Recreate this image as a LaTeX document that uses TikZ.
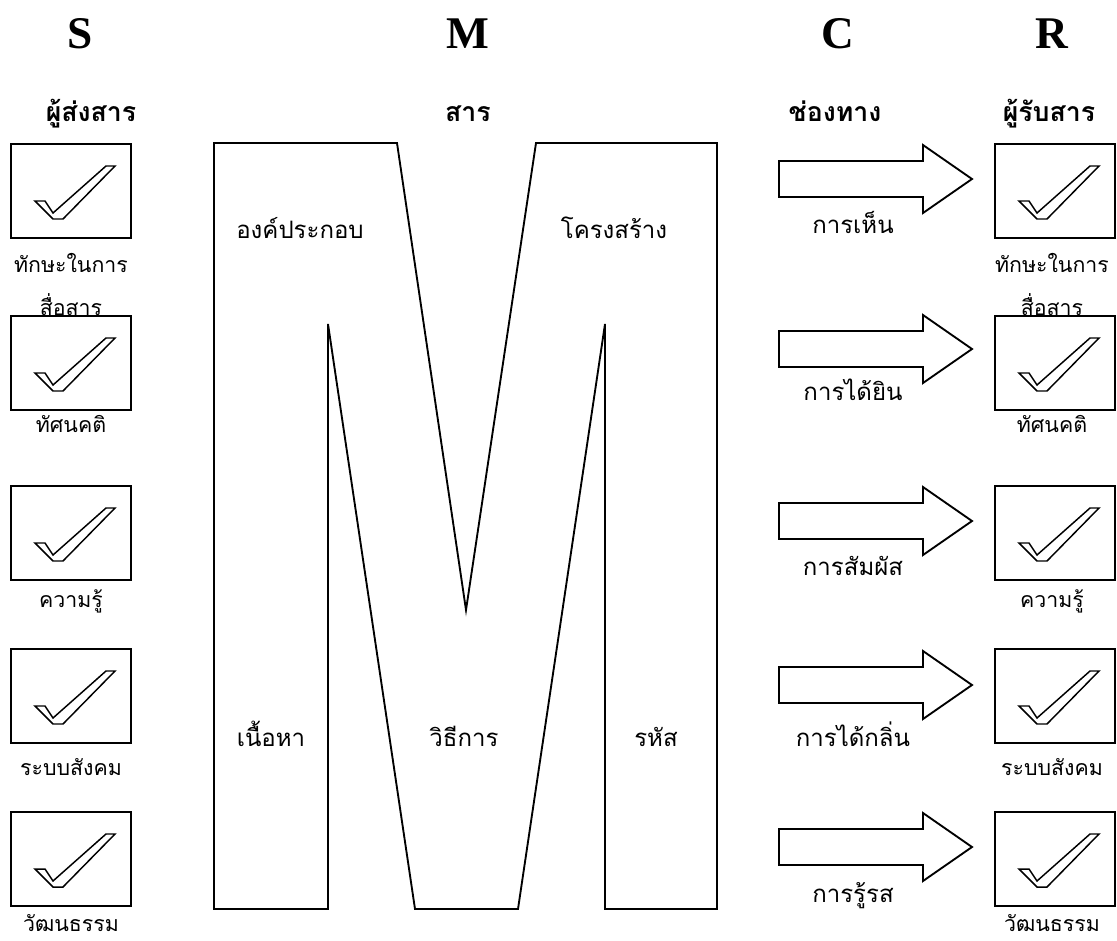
\documentclass[tikz,border=0pt]{standalone}
\usepackage{fontspec}
\setmainfont{Liberation Serif}
\newfontfamily\thaifont[Script=Thai]{Loma}
\usepackage{tikz}
\usetikzlibrary{positioning}
\tikzset{
  chkbox/.style = {shape=rectangle, draw, line width=1.4pt,
                   minimum width=90pt, minimum height=71pt, inner sep=0pt},
  lbl/.style    = {font=\thaifont\fontsize{16}{19}\selectfont, anchor=base, inner sep=0pt},
  biglbl/.style = {lbl, font=\thaifont\fontsize{18}{22}\selectfont},
  head/.style   = {font=\bfseries\fontsize{34}{40}\selectfont, anchor=base, inner sep=0pt},
  thead/.style  = {font=\thaifont\bfseries\fontsize{20}{24}\selectfont, anchor=base, inner sep=0pt},
  pics/tick/.style = {code={
    \draw[line width=1.1pt] (-36,10) -- (-26,10) -- (-18,22) -- (35,-25) -- (44,-25)
      -- (-8,28) -- (-18,28) -- cycle;}},
  pics/chan/.style = {code={
    \draw[line width=1.4pt] (0,-18) -- (144,-18) -- (144,-34) -- (193,0) -- (144,34)
      -- (144,18) -- (0,18) -- cycle;}}
}

\begin{document}
\begin{tikzpicture}[x=0.75pt, y=-0.75pt]
  \useasboundingbox (0,0) rectangle (1117,940);

  % S M C R
  \node[head] (hs) at (80,48)   {S};
  \node[head] (hm) at (468,48)  {M};
  \node[head] (hc) at (838,48)  {C};
  \node[head] (hr) at (1052,48) {R};
  \node[thead] (ts) at (91,121)   {ผู้ส่งสาร};
  \node[thead] (tm) at (468,121)  {สาร};
  \node[thead] (tc) at (835,121)  {ช่องทาง};
  \node[thead] (tr) at (1049,121) {ผู้รับสาร};

  % sender and receiver
  \foreach \n/\y/\b/\t in {1/191/272/ทักษะในการ, 2/363/432/ทัศนคติ, 3/533/607/ความรู้,
                           4/696/775/ระบบสังคม, 5/859/931/วัฒนธรรม} {
    \node[chkbox] (s\n) at (71,\y) {};
    \pic at (s\n) {tick};
    \node[lbl] (sl\n) at (71,\b) {\t};
    \node[chkbox] (r\n) at (1055,\y) {};
    \pic at (r\n) {tick};
    \node[lbl] (rl\n) at (1052,\b) {\t};
  }
  \node[lbl] (sl1b) at (71,315)   {สื่อสาร};
  \node[lbl] (rl1b) at (1052,315) {สื่อสาร};

  % message
  \draw[line width=1.4pt] (214,143) -- (397,143) -- (466,610) -- (536,143) -- (717,143)
    -- (717,909) -- (605,909) -- (605,324) -- (518,909) -- (415,909) -- (328,324)
    -- (328,909) -- (214,909) -- cycle;
  \node[biglbl] (m1) at (300,238) {องค์ประกอบ};
  \node[biglbl] (m2) at (614,238) {โครงสร้าง};
  \node[biglbl] (m3) at (271,746) {เนื้อหา};
  \node[biglbl] (m4) at (464,746) {วิธีการ};
  \node[biglbl] (m5) at (656,746) {รหัส};

  % channels
  \foreach \n/\y/\b/\t in {1/179/233/การเห็น, 2/349/400/การได้ยิน, 3/521/575/การสัมผัส,
                           4/685/746/การได้กลิ่น, 5/847/902/การรู้รส} {
    \pic (c\n) at (779,\y) {chan};
    \node[biglbl] (cl\n) at (853,\b) {\t};
  }
\end{tikzpicture}
\end{document}
